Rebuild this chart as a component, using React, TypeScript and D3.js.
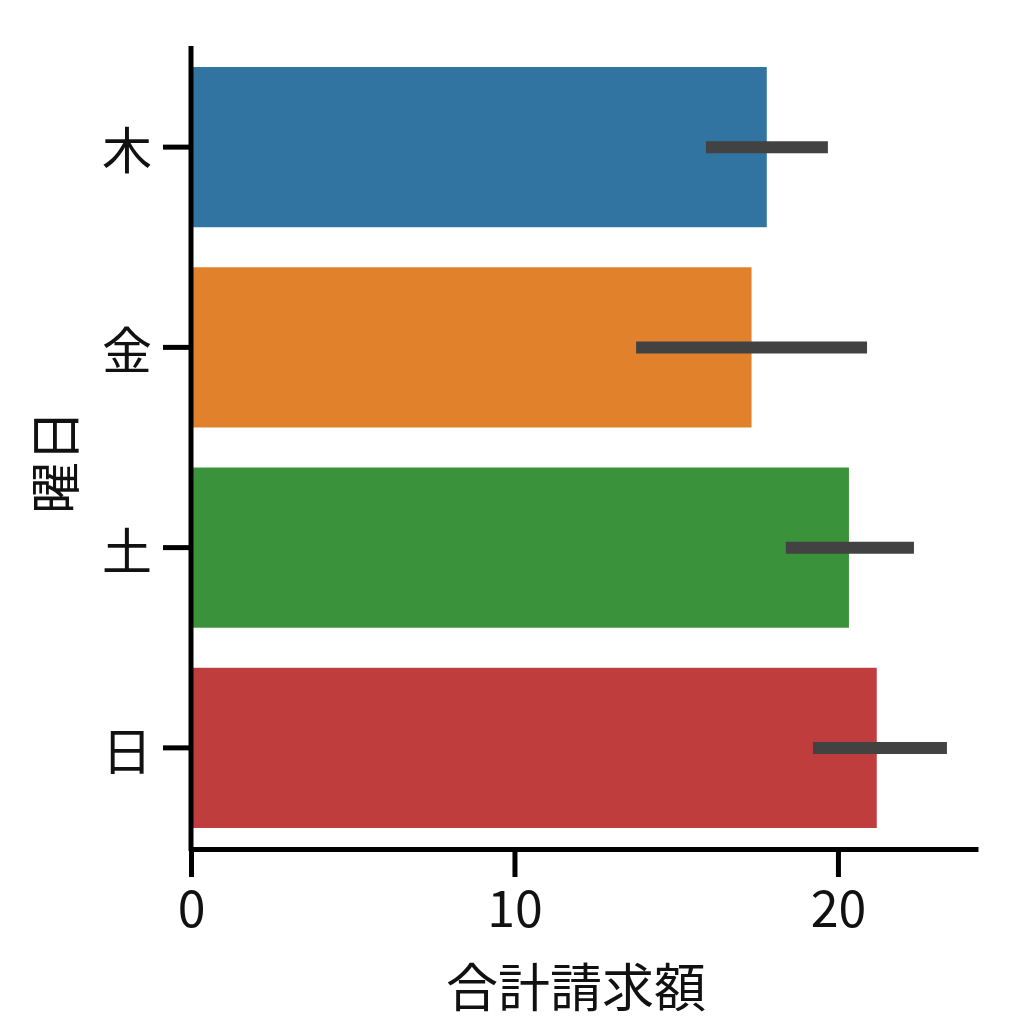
import { useEffect, useRef } from 'react'
import * as d3 from 'd3'

// mean total bill per weekday, with CI bounds
const days = ['木', '金', '土', '日']
const means = [17.8, 17.33, 20.34, 21.2]
const ciLow = [15.92, 13.76, 18.39, 19.23]
const ciHigh = [19.69, 20.9, 22.35, 23.37]
const colors = ['#3274a1', '#e1812c', '#3a923a', '#c03d3e']
const xTicks = [0, 10, 20]
const xMax = 24.33

const FONT = '"Noto Sans CJK JP", "Noto Sans", sans-serif'

export default function App() {
  const svgRef = useRef<SVGSVGElement>(null)

  useEffect(() => {
    if (!svgRef.current) return
    const width = 1024
    const height = 1024
    const margin = { top: 47, right: 46, bottom: 176, left: 191 }
    const innerWidth = width - margin.left - margin.right
    const innerHeight = height - margin.top - margin.bottom

    const svg = d3.select(svgRef.current)
    svg.selectAll('*').remove()
    svg.attr('viewBox', `0 0 ${width} ${height}`)

    const g = svg.append('g')
      .attr('transform', `translate(${margin.left},${margin.top})`)

    const xScale = d3.scaleLinear().domain([0, xMax]).range([0, innerWidth])
    const yScale = d3.scaleBand().domain(days).range([0, innerHeight])
      .paddingInner(0.2)
      .paddingOuter(0.1)

    const rows = days.map((d, i) => ({ day: d, mean: means[i], lo: ciLow[i], hi: ciHigh[i], color: colors[i] }))

    // bars
    g.selectAll('.bar')
      .data(rows)
      .enter().append('rect')
      .attr('class', 'bar')
      .attr('x', xScale(0))
      .attr('y', d => yScale(d.day) as number)
      .attr('width', d => xScale(d.mean) - xScale(0))
      .attr('height', yScale.bandwidth())
      .attr('fill', d => d.color)

    // error bars
    g.selectAll('.err')
      .data(rows)
      .enter().append('line')
      .attr('class', 'err')
      .attr('x1', d => xScale(d.lo))
      .attr('x2', d => xScale(d.hi))
      .attr('y1', d => (yScale(d.day) as number) + yScale.bandwidth() / 2)
      .attr('y2', d => (yScale(d.day) as number) + yScale.bandwidth() / 2)
      .attr('stroke', '#424242')
      .attr('stroke-width', 12)

    // x axis
    const xAxis = g.append('g')
      .attr('transform', `translate(0,${innerHeight + 1})`)
      .call(d3.axisBottom(xScale).tickValues(xTicks).tickSize(28).tickSizeOuter(0).tickPadding(12))
    xAxis.select('.domain').attr('stroke', '#000').attr('stroke-width', 5)
    xAxis.selectAll('.tick line').attr('stroke', '#000').attr('stroke-width', 5)
    xAxis.selectAll('.tick text')
      .attr('fill', '#111')
      .attr('y', 78)
      .attr('dy', 0)
      .style('font-family', FONT)
      .style('font-size', '50px')

    // y axis
    const yAxis = g.append('g')
      .call(d3.axisLeft(yScale).tickSize(28).tickSizeOuter(0).tickPadding(11))
    yAxis.select('.domain').attr('stroke', '#000').attr('stroke-width', 5)
      .attr('d', `M0,-1V${innerHeight + 3}`)
    yAxis.selectAll('.tick line').attr('stroke', '#000').attr('stroke-width', 5)
    yAxis.selectAll('.tick text')
      .attr('fill', '#111')
      .attr('dy', 0)
      .attr('dominant-baseline', 'central')
      .style('font-family', FONT)
      .style('font-size', '50px')

    // axis labels
    svg.append('text')
      .attr('x', 576)
      .attr('y', 984)
      .attr('text-anchor', 'middle')
      .attr('dominant-baseline', 'central')
      .attr('fill', '#111')
      .style('font-family', FONT)
      .style('font-size', '52px')
      .text('合計請求額')

    svg.append('text')
      .attr('transform', 'translate(52,462) rotate(-90)')
      .attr('text-anchor', 'middle')
      .attr('dominant-baseline', 'central')
      .attr('fill', '#111')
      .style('font-family', FONT)
      .style('font-size', '52px')
      .text('曜日')
  }, [])

  return (
    <svg
      ref={svgRef}
      width={1024}
      height={1024}
      style={{ position: 'absolute', top: 0, left: 0, background: '#fff' }}
    />
  )
}
